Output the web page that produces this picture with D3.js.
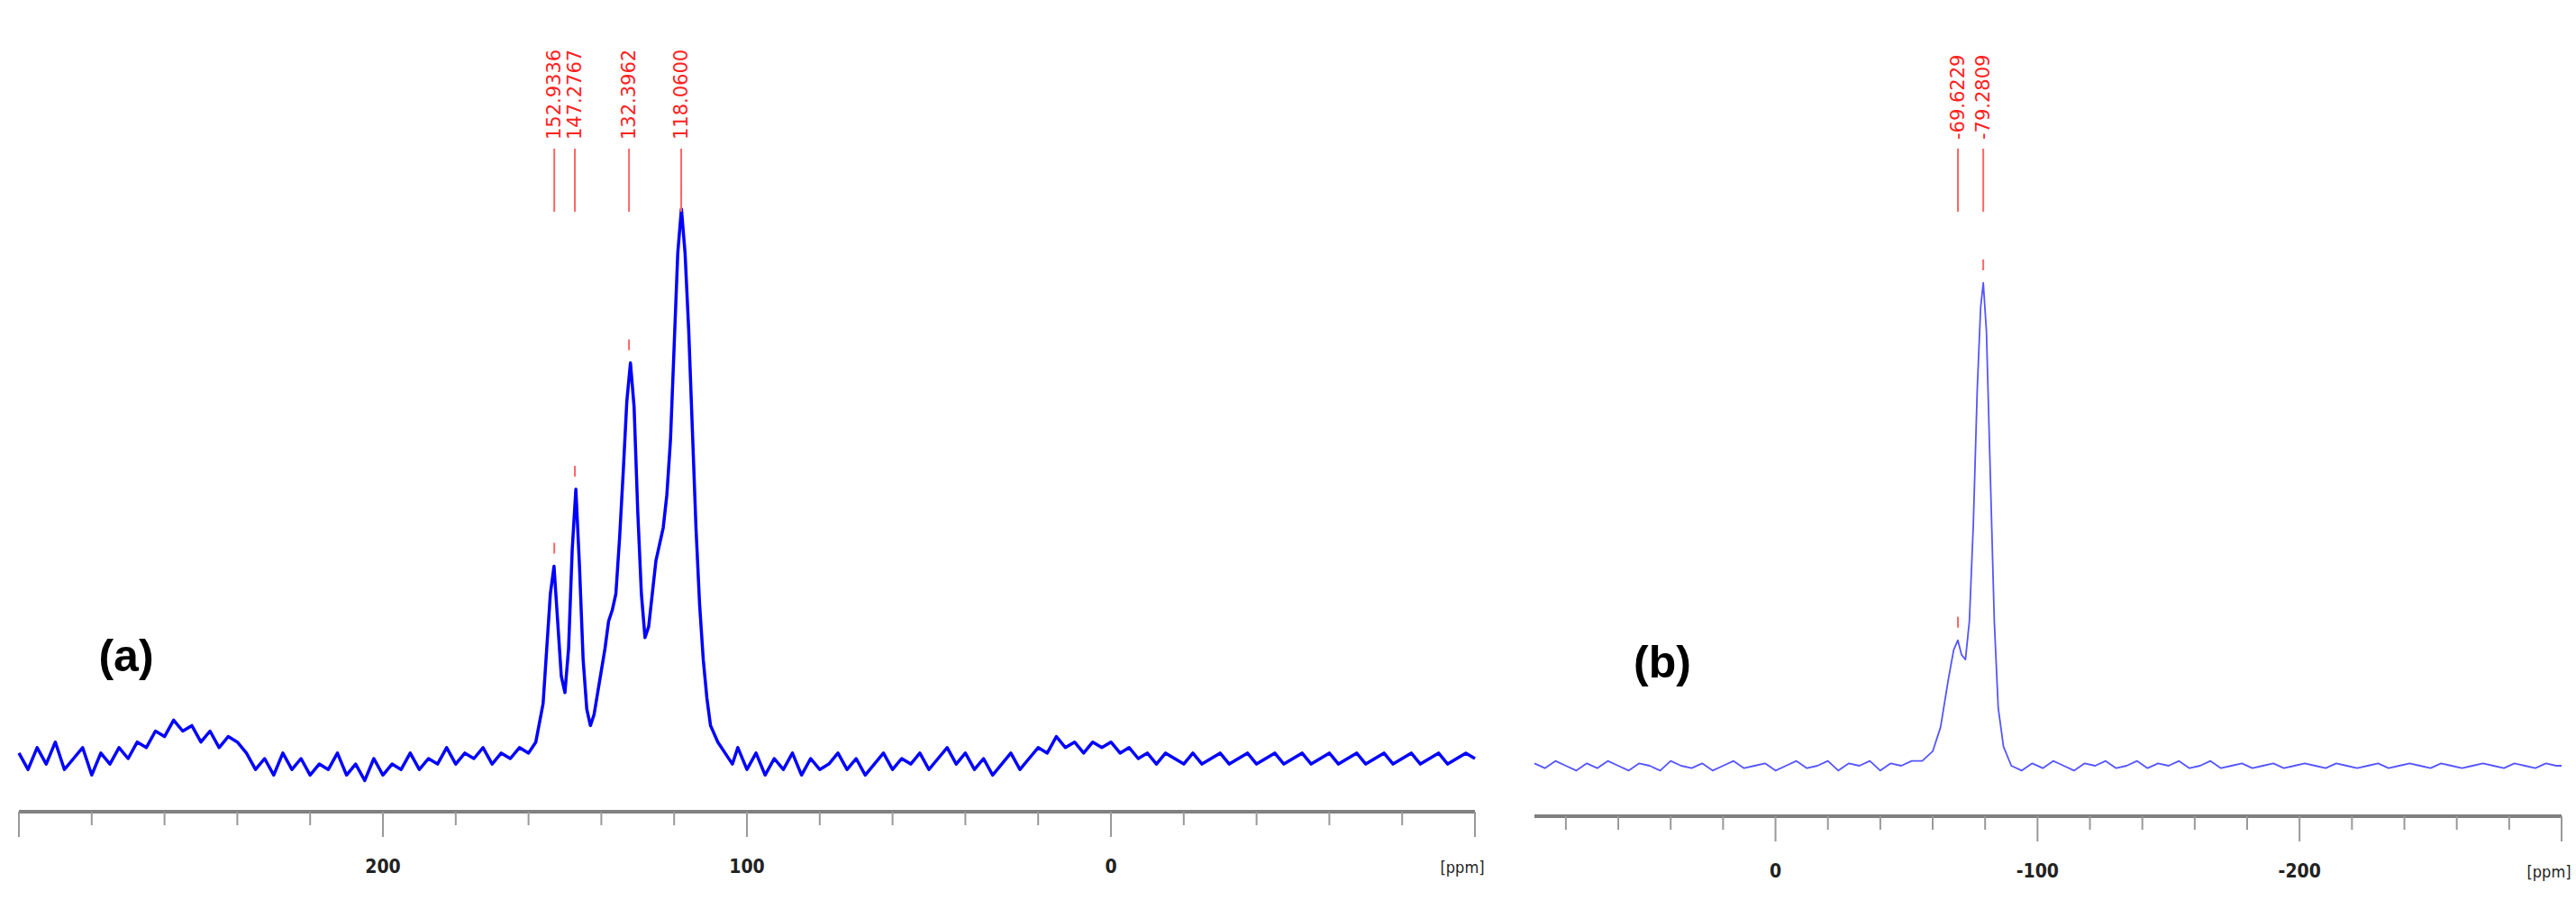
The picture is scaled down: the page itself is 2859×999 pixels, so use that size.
<!DOCTYPE html>
<html><head><meta charset="utf-8">
<script src="https://cdn.jsdelivr.net/npm/d3@7"></script>
<style>body{margin:0;background:#fff}</style></head>
<body><svg id="c" width="2859" height="999"></svg>
<script>
// Panel (a): [ppm, relative intensity]
const specA = [[300,1],[297.5,-2],[295,2],[292.5,-1],[290,3],[287.5,-2],[285,0],[282.5,2],[280,-3],[277.5,1],[275,-1],[272.5,2],[270,0],[267.5,3],[265,2],[262.5,5],[260,4],[257.5,7],[255,5],[252.5,6],[250,3],[247.5,5],[245,2],[242.5,4],[240,3],[237.5,1],[235,-2],[232.5,0],[230,-3],[227.5,1],[225,-2],[222.5,0],[220,-3],[217.5,-1],[215,-2],[212.5,1],[210,-3],[207.5,-1],[205,-4],[202.5,0],[200,-3],[197.5,-1],[195,-2],[192.5,1],[190,-2],[187.5,0],[185,-1],[182.5,2],[180,-1],[177.5,1],[175,0],[172.5,2],[170,-1],[167.5,1],[165,0],[162.5,2],[160,1],
[158,3],[156,10],[155,20],[154,30],[153,35],[152,25],[151,15],[150,12],[149,20],[148,38],[147,49],[146,35],[145,18],[144,9],[143,6],[142,8],[141,12],[140,16],[139,20],[138,25],[137,27],[136,30],[135,40],[134,52],[133,65],[132,72],[131,64],[130,45],[129,30],[128,22],[127,24],[126,30],[125,36],[124,39],[123,42],[122,48],[121,58],[120,75],[119,92],[118,100],[117,92],[116,78],[115,60],[114,42],[113,28],[112,18],[111,11],[110,6],[108,3],[106,1],[104,-1],
[102.5,2],[100,-2],[97.5,1],[95,-3],[92.5,0],[90,-2],[87.5,1],[85,-3],[82.5,0],[80,-2],[77.5,-1],[75,1],[72.5,-2],[70,0],[67.5,-3],[65,-1],[62.5,1],[60,-2],[57.5,0],[55,-1],[52.5,1],[50,-2],[47.5,0],[45,2],[42.5,-1],[40,1],[37.5,-2],[35,0],[32.5,-3],[30,-1],[27.5,1],[25,-2],[22.5,0],[20,2],[17.5,1],[15,4],[12.5,2],[10,3],[7.5,1],[5,3],[2.5,2],[0,3],[-2.5,1],[-5,2],[-7.5,0],[-10,1],[-12.5,-1],[-15,1],[-17.5,0],[-20,-1],[-22.5,1],[-25,-1],[-27.5,0],[-30,1],[-32.5,-1],[-35,0],[-37.5,1],[-40,-1],[-42.5,0],[-45,1],[-47.5,-1],[-50,0],[-52.5,1],[-55,-1],[-57.5,0],[-60,1],[-62.5,-1],[-65,0],[-67.5,1],[-70,-1],[-72.5,0],[-75,1],[-77.5,-1],[-80,0],[-82.5,1],[-85,-1],[-87.5,0],[-90,1],[-92.5,-1],[-95,0],[-97.5,1],[-100,0]];
const peaksA = [[152.9336,35],[147.2767,49],[132.3962,72],[118.0600,100]];
const ticksA = [200,100,0];

// Panel (b)
const specB = [[92,0.5],[88,-0.5],[84,1],[80,0],[76,-1],[72,0.5],[68,-0.5],[64,1],[60,0],[56,-1],[52,0.5],[48,0],[44,-1],[40,1],[36,0],[32,-0.5],[28,0.5],[24,-1],[20,0],[16,1],[12,-0.5],[8,0],[4,0.5],[0,-1],[-4,0],[-8,1],[-12,-0.5],[-16,0],[-20,1],[-24,-1],[-28,0.5],[-32,0],[-36,1],[-40,-1],[-44,0.5],[-48,0],[-52,1],[-56,1],[-60,3],[-63,8],[-66,18],[-68,24],[-69.6,26],[-71,23],[-72.5,22],[-74,30],[-75.5,50],[-77,78],[-78.3,95],[-79.3,100],[-80.5,90],[-82,60],[-83.5,30],[-85,12],[-87,4],[-90,0],[-94,-1],[-98,0.5],[-102,-0.5],[-106,1],[-110,0],[-114,-1],[-118,0.5],[-122,0],[-126,1],[-130,-0.5],[-134,0],[-138,1],[-142,-0.5],[-146,0.5],[-150,0],[-154,1],[-158,-0.5],[-162,0],[-166,1],[-170,-0.5],[-174,0],[-178,0.5],[-182,-0.5],[-186,0],[-190,0.5],[-194,-0.5],[-198,0],[-202,0.5],[-206,0],[-210,-0.5],[-214,0.5],[-218,0],[-222,-0.5],[-226,0],[-230,0.5],[-234,-0.5],[-238,0],[-242,0.5],[-246,0],[-250,-0.5],[-254,0.5],[-258,0],[-262,-0.5],[-266,0],[-270,0.5],[-274,0],[-278,-0.5],[-282,0.5],[-286,0],[-290,-0.5],[-294,0.5],[-298,0],[-300,0]];
const peaksB = [[-69.6229,26],[-79.2809,100]];
const ticksB = [0,-100,-200];

const svg = d3.select("#c");
function panel(cfg){
  const x = d3.scaleLinear().domain(cfg.dom).range(cfg.xr);
  const y = d3.scaleLinear().domain([0,100]).range(cfg.yr);
  const g = svg.append("g");
  g.append("path").datum(cfg.spec).attr("fill","none").attr("stroke",cfg.col)
   .attr("stroke-width",cfg.sw).attr("stroke-linejoin","round")
   .attr("d",d3.line().x(d=>x(d[0])).y(d=>y(d[1])));
  const ay = cfg.axisY;
  g.append("line").attr("x1",cfg.xr[0]).attr("x2",cfg.xr[1]).attr("y1",ay).attr("y2",ay)
   .attr("stroke","#808080").attr("stroke-width",4);
  const minor = d3.range(Math.floor(cfg.dom[0]/20)*20, cfg.dom[1]-1, -20);
  g.selectAll(".mt").data(minor).join("line")
   .attr("x1",d=>x(d)).attr("x2",d=>x(d)).attr("y1",ay).attr("y2",d=>ay+(d%100===0?28:15))
   .attr("stroke","#999").attr("stroke-width",2);
  g.selectAll(".tl").data(cfg.ticks).join("text")
   .attr("x",d=>x(d)).attr("y",ay+68).attr("text-anchor","middle")
   .attr("font-family","DejaVu Sans Condensed, DejaVu Sans").attr("font-size",21).attr("font-weight","bold")
   .attr("fill","#222").text(d=>cfg.fmt(d));
  g.append("text").attr("x",cfg.xr[1]-14).attr("y",ay+68).attr("text-anchor","middle")
   .attr("font-family","DejaVu Sans Condensed, DejaVu Sans").attr("font-size",18).attr("fill","#222").text("[ppm]");
  g.selectAll(".pm").data(cfg.peaks).join("line")
   .attr("x1",d=>x(d[0])).attr("x2",d=>x(d[0])).attr("y1",d=>y(d[1])-26).attr("y2",d=>y(d[1])-14)
   .attr("stroke","#f66").attr("stroke-width",2);
  g.selectAll(".pl").data(cfg.peaks).join("line")
   .attr("x1",d=>x(d[0])).attr("x2",d=>x(d[0])).attr("y1",165).attr("y2",235)
   .attr("stroke","#f66").attr("stroke-width",2);
  g.selectAll(".pt").data(cfg.peaks).join("text")
   .attr("transform",d=>`translate(${x(d[0])+7},155) rotate(-90)`)
   .attr("font-family","DejaVu Sans, sans-serif").attr("font-size",21).attr("fill","#f22")
   .text(d=>d[0].toFixed(4));
  svg.append("text").attr("x",cfg.lab[0]).attr("y",cfg.lab[1]).attr("text-anchor","middle")
   .attr("font-family","Liberation Sans, Arial").attr("font-weight","bold").attr("font-size",50)
   .text(cfg.name);
}
panel({spec:specA,peaks:peaksA,ticks:ticksA,dom:[300,-100],xr:[21,1637],yr:[842,232],axisY:901,
  col:"#0000ff",sw:3.5,fmt:d=>String(d),lab:[140,745],name:"(a)"});
panel({spec:specB,peaks:peaksB,ticks:ticksB,dom:[92,-300],xr:[1703,2843],yr:[850,314],axisY:906,
  col:"#5555ff",sw:1.8,fmt:d=>d===0?"0":"-"+Math.abs(d),lab:[1845,752],name:"(b)"});
</script></body></html>
